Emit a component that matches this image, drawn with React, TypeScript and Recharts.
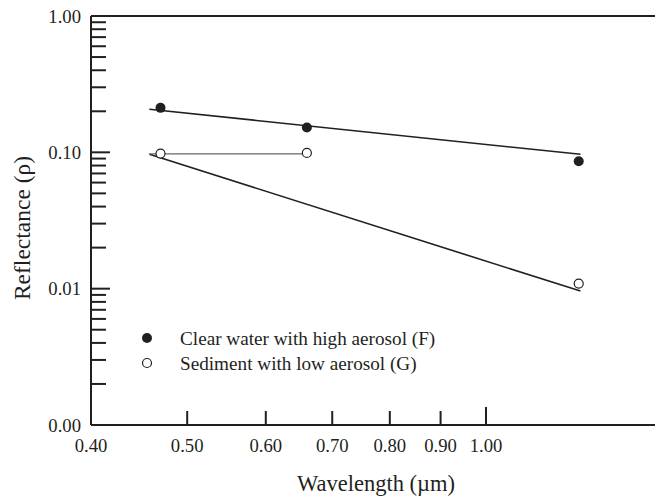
import React from 'react';
import { ComposedChart, XAxis, YAxis, Scatter, Line, ReferenceLine, Legend } from 'recharts';

const xTicks = [0.4, 0.5, 0.6, 0.7, 0.8, 0.9, 1.0];
const yMajorTicks = [0.001, 0.01, 0.1, 1];
const yMinorTicks = [
  0.002, 0.003, 0.004, 0.005, 0.006, 0.007, 0.008, 0.009,
  0.02, 0.03, 0.04, 0.05, 0.06, 0.07, 0.08, 0.09,
  0.2, 0.3, 0.4, 0.5, 0.6, 0.7, 0.8, 0.9,
];

const clearWaterF = [
  { x: 0.47, y: 0.212 },
  { x: 0.66, y: 0.152 },
  { x: 1.24, y: 0.086 },
];
const sedimentG = [
  { x: 0.47, y: 0.098 },
  { x: 0.66, y: 0.099 },
  { x: 1.24, y: 0.0109 },
];
const fitF = [
  { x: 0.458, y: 0.207 },
  { x: 1.245, y: 0.0967 },
];
const fitG = [
  { x: 0.458, y: 0.0967 },
  { x: 1.245, y: 0.0096 },
];
const linkG = [
  { x: 0.458, y: 0.0975 },
  { x: 0.66, y: 0.0975 },
];

const FONT = '"Liberation Serif", "Times New Roman", serif';
const INK = '#231f20';
const FS = 18.7;
const LEG_FS = 19.2;

const YTick = (props: any) => {
  const { x, y, payload } = props;
  const v = payload.value;
  const major = yMajorTicks.some((m) => Math.abs(m - v) < 1e-9);
  return (
    <g>
      <line x1={x} x2={x + (major ? 19 : 15)} y1={y} y2={y} stroke={INK} strokeWidth={2} />
      {major && (
        <text x={x - 10} y={y + 6.5} textAnchor="end" fontFamily={FONT} fontSize={FS} fill={INK}>
          {v.toFixed(2)}
        </text>
      )}
    </g>
  );
};

const XTick = (props: any) => {
  const { x, y, payload } = props;
  const v = payload.value;
  return (
    <g>
      {v > 0.45 && (
        <line x1={x} x2={x} y1={y} y2={y - (v > 0.95 ? 18 : 14)} stroke={INK} strokeWidth={2} />
      )}
      <text x={x} y={y + 27} textAnchor="middle" fontFamily={FONT} fontSize={FS} fill={INK}>
        {v.toFixed(2)}
      </text>
    </g>
  );
};

const FilledDot = (props: any) => <circle cx={props.cx} cy={props.cy} r={5} fill={INK} />;
const HollowDot = (props: any) => (
  <circle cx={props.cx} cy={props.cy} r={4.5} fill="#fff" stroke={INK} strokeWidth={1.2} />
);

const LegendContent = () => (
  <svg width={330} height={60} style={{ display: 'block' }}>
    <circle cx={17} cy={18} r={5} fill={INK} />
    <text x={50} y={25} fontFamily={FONT} fontSize={LEG_FS} fill={INK}>
      Clear water with high aerosol (F)
    </text>
    <circle cx={17} cy={43} r={4.5} fill="#fff" stroke={INK} strokeWidth={1.2} />
    <text x={50} y={50} fontFamily={FONT} fontSize={LEG_FS} fill={INK}>
      Sediment with low aerosol (G)
    </text>
  </svg>
);

export default function App() {
  return (
    <div style={{ position: 'absolute', left: 0, top: 0, width: 657, height: 497, background: '#fff' }}>
      <ComposedChart width={657} height={497} margin={{ top: 16, right: 2, bottom: 0, left: 0 }}>
        <XAxis
          type="number"
          dataKey="x"
          scale="log"
          domain={[0.4, 1.48]}
          allowDataOverflow
          ticks={xTicks}
          interval={0}
          tickSize={0}
          tickMargin={0}
          tickLine={false}
          tick={<XTick />}
          height={72}
          axisLine={{ stroke: INK, strokeWidth: 2 }}
          label={{
            content: () => (
              <text x={376} y={491} textAnchor="middle" fontFamily={FONT} fontSize={22.5} fill={INK}>
                Wavelength (µm)
              </text>
            ),
          }}
        />
        <YAxis
          type="number"
          dataKey="y"
          scale="log"
          domain={[0.001, 1]}
          allowDataOverflow
          ticks={[...yMajorTicks, ...yMinorTicks]}
          interval={0}
          tickSize={0}
          tickMargin={0}
          tickLine={false}
          tick={<YTick />}
          width={91}
          axisLine={{ stroke: INK, strokeWidth: 2 }}
          label={{
            content: () => (
              <text
                x={30}
                y={228}
                transform="rotate(-90 30 228)"
                textAnchor="middle"
                fontFamily={FONT}
                fontSize={23.5}
                fill={INK}
              >
                Reflectance (ρ)
              </text>
            ),
          }}
        />
        <ReferenceLine y={1} stroke={INK} strokeWidth={2} />
        <Line data={fitF} dataKey="y" type="linear" stroke={INK} strokeWidth={1.6} dot={false} activeDot={false} isAnimationActive={false} legendType="none" />
        <Line data={fitG} dataKey="y" type="linear" stroke={INK} strokeWidth={1.6} dot={false} activeDot={false} isAnimationActive={false} legendType="none" />
        <Line data={linkG} dataKey="y" type="linear" stroke="#666" strokeWidth={1.4} dot={false} activeDot={false} isAnimationActive={false} legendType="none" />
        <Scatter data={clearWaterF} dataKey="y" shape={<FilledDot />} isAnimationActive={false} name="Clear water with high aerosol (F)" />
        <Scatter data={sedimentG} dataKey="y" shape={<HollowDot />} isAnimationActive={false} name="Sediment with low aerosol (G)" />
        <Legend
          layout="horizontal"
          verticalAlign="middle"
          align="center"
          content={<LegendContent />}
          wrapperStyle={{ position: 'absolute', left: 130, top: 320, width: 330, height: 60 }}
        />
      </ComposedChart>
    </div>
  );
}
